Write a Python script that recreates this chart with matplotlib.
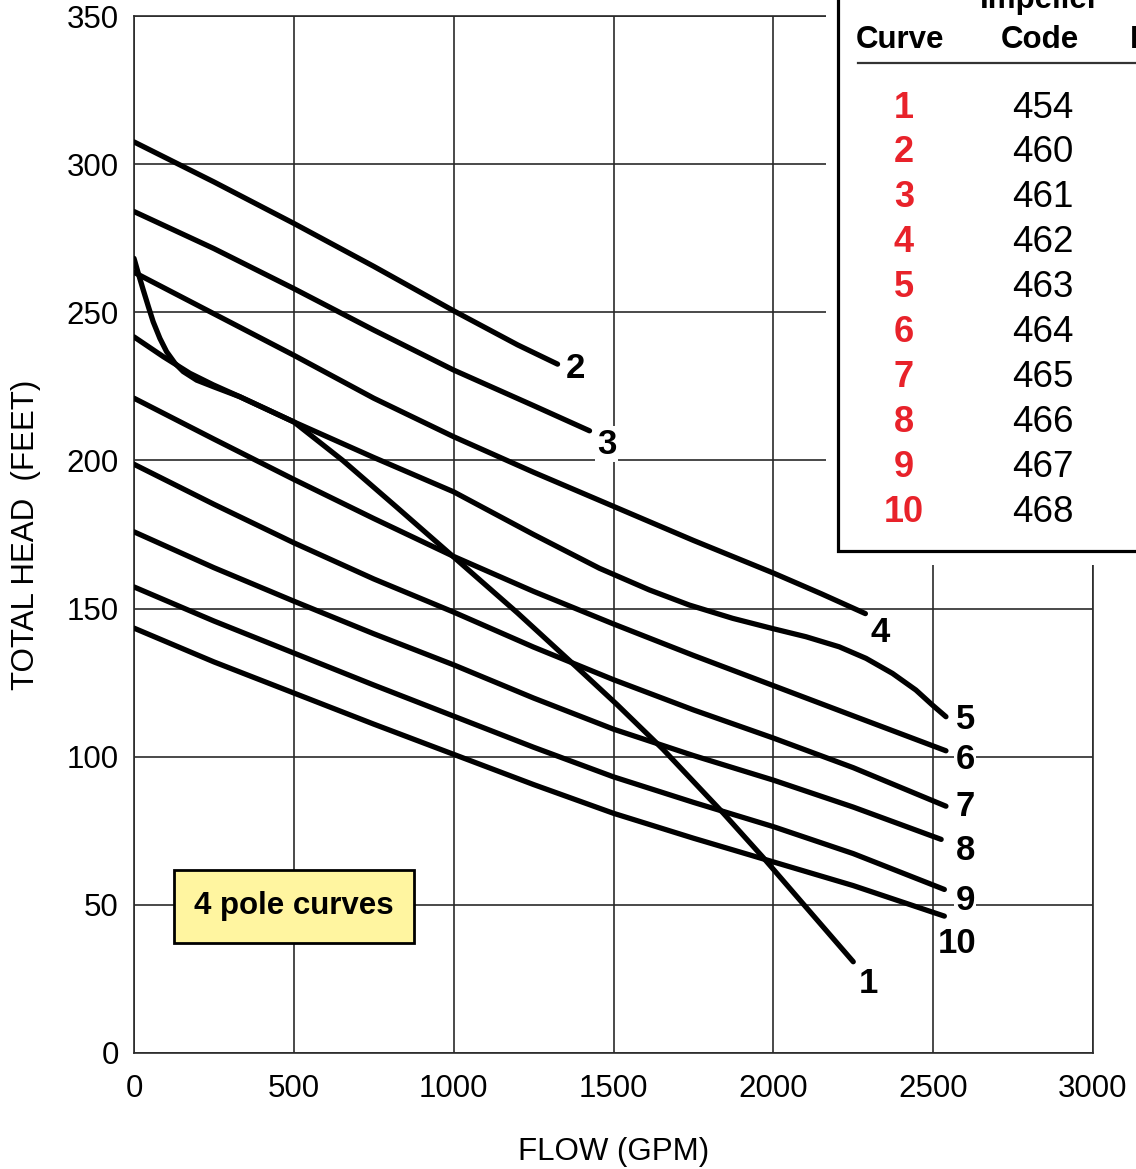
import matplotlib
matplotlib.use("Agg")
import matplotlib.pyplot as plt
from matplotlib.patches import Rectangle
from matplotlib.lines import Line2D

plt.rcParams['font.family'] = ['Liberation Sans', 'DejaVu Sans']

# pump curves: flow (GPM) / total head (ft)
c1_q = [0, 13.5, 29, 45, 60, 81, 102, 128, 154, 196, 248, 331, 500, 653, 821, 1000, 1200, 1384, 1510, 1655, 1843, 1968, 2100, 2250]
c1_h = [268.2, 263.1, 257.5, 251.9, 246.8, 241.2, 236.7, 232.8, 230, 227.1, 224.9, 221.5, 213, 200, 184.3, 167.4, 148.5, 130.3, 117.7, 102.5, 81, 66, 49.5, 30.8]
c2_q = [0, 250, 500, 750, 1000, 1200, 1325]
c2_h = [307.5, 294, 280, 265.5, 250.5, 239, 232.5]
c3_q = [0, 250, 500, 750, 1000, 1250, 1425]
c3_h = [284, 271.5, 258, 244, 230.5, 218.5, 210]
c4_q = [0, 250, 500, 750, 1000, 1250, 1500, 1750, 2000, 2150, 2288]
c4_h = [263.5, 249.5, 235.5, 221, 208, 196, 184.5, 173, 162, 155, 148.3]
c5_q = [0, 92, 175, 248, 331, 500, 750, 1000, 1250, 1456, 1612, 1737, 1873, 1996, 2102, 2206, 2290, 2373, 2446, 2498, 2540]
c5_h = [241.7, 235, 229.4, 225.5, 221.5, 213, 201, 189.4, 175, 163.6, 156.3, 151.2, 146.7, 143.3, 140.5, 137.1, 133.2, 128.1, 122.5, 117.4, 113.5]
c6_q = [0, 250, 500, 750, 1000, 1250, 1500, 1750, 2000, 2250, 2540]
c6_h = [221, 207.2, 193.6, 180.4, 167.6, 155.8, 144.8, 134.2, 124, 113.8, 102]
c7_q = [0, 250, 500, 750, 1000, 1250, 1500, 1750, 2000, 2250, 2540]
c7_h = [198.7, 185.2, 172.2, 160, 148.8, 137, 126, 115.8, 106.3, 96.3, 83.3]
c8_q = [0, 250, 500, 750, 1000, 1250, 1500, 1750, 2000, 2250, 2525]
c8_h = [175.9, 163.8, 152.5, 141.5, 131, 119.8, 109.3, 100.4, 92.1, 83, 72.1]
c9_q = [0, 250, 500, 750, 1000, 1250, 1500, 1750, 2000, 2250, 2535]
c9_h = [157.3, 145.8, 135, 124.2, 113.7, 103.2, 93.2, 84.6, 76.4, 67.3, 55.2]
c10_q = [0, 250, 500, 750, 1000, 1250, 1500, 1750, 2000, 2250, 2535]
c10_h = [143.4, 132, 121.5, 111, 100.8, 90.6, 80.9, 72.5, 64.5, 56.5, 46.2]

curves = [(c1_q, c1_h), (c2_q, c2_h), (c3_q, c3_h), (c4_q, c4_h), (c5_q, c5_h),
          (c6_q, c6_h), (c7_q, c7_h), (c8_q, c8_h), (c9_q, c9_h), (c10_q, c10_h)]

# curve number labels (flow, head)
label_names = ['1', '2', '3', '4', '5', '6', '7', '8', '9', '10']
label_q = [2297, 1381, 1478, 2334, 2600, 2600, 2600, 2600, 2600, 2575]
label_h = [23.6, 231, 205.5, 142, 112.7, 98.9, 83.3, 68.2, 51.6, 36.8]

# legend table
table_curves = ['1', '2', '3', '4', '5', '6', '7', '8', '9', '10']
table_codes = ['454', '460', '461', '462', '463', '464', '465', '466', '467', '468']

W, H = 1136, 1169
fig = plt.figure(figsize=(W / 100, H / 100), dpi=100)
ax = fig.add_axes([134 / W, 1 - 1053 / H, (1093 - 134) / W, (1053 - 16) / H])

grid_c = '#2a2a2a'
ax.set_xlim(0, 3000)
ax.set_ylim(0, 350)
ax.set_xticks(range(0, 3001, 500))
ax.set_yticks(range(0, 351, 50))
ax.grid(True, color=grid_c, lw=1.2)
for s in ax.spines.values():
    s.set_color(grid_c)
    s.set_linewidth(1.2)
ax.tick_params(length=0, labelsize=22.5)
ax.tick_params(axis='y', pad=11)
ax.tick_params(axis='x', pad=15)

for q, h in curves:
    ax.plot(q, h, color='black', lw=3.8, solid_capstyle='round', solid_joinstyle='round', zorder=3)

for name, q, h in zip(label_names, label_q, label_h):
    ax.text(q, h, name, fontsize=25, fontweight='bold', ha='center', va='center', zorder=4,
            bbox=dict(facecolor='white', edgecolor='none', pad=1.0))

ax.set_xlabel('FLOW (GPM)', fontsize=22.5)
ax.set_ylabel('TOTAL HEAD  (FEET)', fontsize=22.5)
ax.yaxis.set_label_coords(-0.097, 0.5)
ax.xaxis.set_label_coords(0.5, -0.081)

# "4 pole curves" note
ax.add_patch(Rectangle((0.0417, 0.106), 0.2503, 0.0705, transform=ax.transAxes,
                       facecolor='#fff5a0', edgecolor='black', lw=2.0, zorder=4))
ax.text(0.1668, 0.1413, '4 pole curves', transform=ax.transAxes, fontsize=22.5, fontweight='bold',
        ha='center', va='center', zorder=5)


def fx(px):
    return px / W


def fy(py):
    return 1 - py / H


# table in the top right corner, partly outside the figure
fig.patches.append(Rectangle((fx(826), fy(565)), fx(400), fy(-20) - fy(565), transform=fig.transFigure,
                             facecolor='white', edgecolor='none', zorder=5))
fig.patches.append(Rectangle((fx(838), fy(551)), fx(400), fy(-20) - fy(551), transform=fig.transFigure,
                             facecolor='white', edgecolor='black', lw=2.3, zorder=6))
fig.lines.append(Line2D([fx(858), fx(1140)], [fy(62.5), fy(62.5)], transform=fig.transFigure,
                        color='#333333', lw=1.6, zorder=7))

fig.text(fx(1040), fy(8), 'Impeller', fontsize=22.5, fontweight='bold', ha='center', va='baseline', zorder=7)
fig.text(fx(900), fy(48), 'Curve', fontsize=22.5, fontweight='bold', ha='center', va='baseline', zorder=7)
fig.text(fx(1040), fy(48), 'Code', fontsize=22.5, fontweight='bold', ha='center', va='baseline', zorder=7)
fig.text(fx(1130), fy(48), 'HP', fontsize=22.5, fontweight='bold', ha='left', va='baseline', zorder=7)

for i, (c, code) in enumerate(zip(table_curves, table_codes)):
    y = 108 + i * 44.9
    fig.text(fx(904), fy(y), c, fontsize=26, fontweight='bold', color='#e8222a', ha='center', va='center', zorder=7)
    fig.text(fx(1043), fy(y), code, fontsize=26.5, ha='center', va='center', zorder=7)

fig.savefig('out.png', dpi=100)
